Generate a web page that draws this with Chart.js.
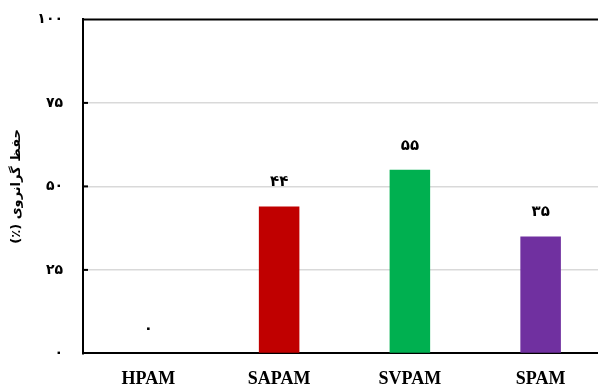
<!DOCTYPE html>
<html>
<head>
<meta charset="utf-8">
<script src="https://cdn.jsdelivr.net/npm/chart.js@4"></script>
<style>
  html, body { margin: 0; padding: 0; background: #fff; overflow: hidden; }
  #wrap { width: 606px; height: 414px; margin-top: -9px; position: relative; }
</style>
</head>
<body>
<div id="wrap"><canvas id="chart"></canvas></div>
<script>
// data
const categories = ['HPAM', 'SAPAM', 'SVPAM', 'SPAM'];
const retention = [0, 44, 55, 35];
const barColors = ['#C00000', '#C00000', '#00B050', '#7030A0'];
const yTicks = [0, 25, 50, 75, 100];
const yTitle = '\u200Fحفظ گرانروی (٪)\u200F';

const faDigits = '۰۱۲۳۴۵۶۷۸۹';
const toFa = n => String(n).replace(/\d/g, d => faDigits[d]);

// frame on top + small inner ticks + value labels
const extras = {
    id: 'extras',
    afterDraw(chart) {
        const { ctx, chartArea: a, scales } = chart;
        ctx.save();
        ctx.strokeStyle = '#000';
        ctx.lineWidth = 2;
        ctx.beginPath();
        ctx.moveTo(a.left - 1, a.top);
        ctx.lineTo(a.right + 10, a.top);
        ctx.stroke();
        yTicks.slice(1, -1).forEach(v => {
            const y = scales.y.getPixelForValue(v);
            ctx.beginPath();
            ctx.moveTo(a.left, y);
            ctx.lineTo(a.left + 5, y);
            ctx.stroke();
        });
        ctx.fillStyle = '#000';
        ctx.font = 'bold 15px "DejaVu Sans"';
        ctx.textAlign = 'center';
        ctx.textBaseline = 'middle';
        const meta = chart.getDatasetMeta(0);
        meta.data.forEach((bar, i) => {
            ctx.fillText(toFa(retention[i]), bar.x, bar.y - 24);
        });
        ctx.restore();
    }
};

new Chart(document.getElementById('chart'), {
    type: 'bar',
    data: {
        labels: categories,
        datasets: [{
            data: retention,
            backgroundColor: barColors,
            borderWidth: 0,
            barPercentage: 0.62,
            categoryPercentage: 0.5
        }]
    },
    options: {
        responsive: true,
        maintainAspectRatio: false,
        animation: false,
        layout: { padding: { top: 2, right: 0, bottom: 0, left: 0 } },
        plugins: { legend: { display: false }, tooltip: { enabled: false } },
        scales: {
            x: {
                grid: { display: false, drawTicks: false },
                border: { color: '#000', width: 2 },
                ticks: {
                    color: '#000',
                    padding: 15,
                    font: { family: '"Liberation Serif"', size: 18, weight: 'bold' }
                }
            },
            y: {
                min: 0,
                max: 100,
                afterFit(scale) { scale.width = 83; },
                afterBuildTicks(scale) { scale.ticks = yTicks.map(v => ({ value: v })); },
                grid: {
                    color: ctx => (ctx.tick.value === 0 || ctx.tick.value === 100) ? 'rgba(0,0,0,0)' : '#d9d9d9',
                    lineWidth: 1.5,
                    drawTicks: false
                },
                border: { color: '#000', width: 2 },
                ticks: {
                    color: '#000',
                    padding: 20,
                    font: { family: '"DejaVu Sans"', size: 14, weight: 'bold' },
                    callback: v => toFa(v)
                },
                title: {
                    display: true,
                    text: yTitle,
                    color: '#000',
                    padding: { top: 9, bottom: 0 },
                    font: { family: '"DejaVu Sans"', size: 13, weight: 'bold' }
                }
            }
        }
    },
    plugins: [extras]
});
</script>
</body>
</html>
